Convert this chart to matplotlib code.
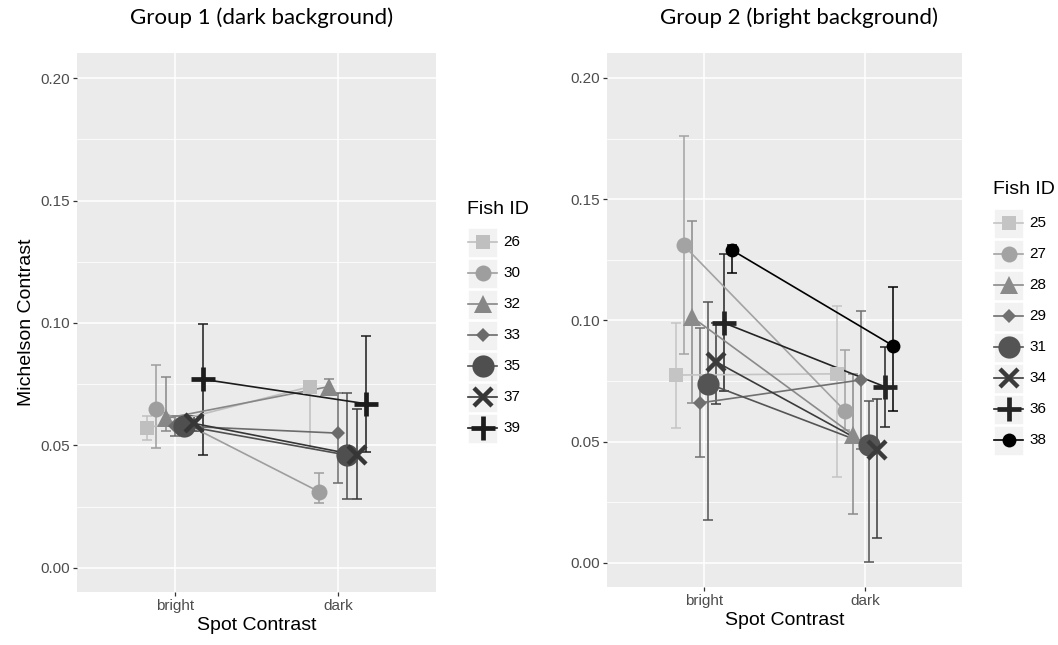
import numpy as np
import matplotlib
matplotlib.use('Agg')
import matplotlib.pyplot as plt
from matplotlib.patches import Rectangle

plt.rcParams['font.family'] = ['Liberation Sans', 'DejaVu Sans']

cats = ['bright', 'dark']

# Group 1 (dark background)
ids1 = ['26', '30', '32', '33', '35', '37', '39']
bright1 = [0.057, 0.065, 0.061, 0.058, 0.058, 0.059, 0.077]
bright1_lo = [0.052, 0.049, 0.056, 0.054, 0.055, 0.056, 0.046]
bright1_hi = [0.062, 0.083, 0.078, 0.062, 0.061, 0.062, 0.0996]
dark1 = [0.074, 0.031, 0.074, 0.055, 0.046, 0.046, 0.067]
dark1_lo = [0.049, 0.0265, 0.072, 0.0347, 0.028, 0.028, 0.0473]
dark1_hi = [0.075, 0.0388, 0.077, 0.0714, 0.0714, 0.065, 0.0947]

# Group 2 (bright background)
ids2 = ['25', '27', '28', '29', '31', '34', '36', '38']
bright2 = [0.0775, 0.131, 0.1015, 0.066, 0.074, 0.083, 0.099, 0.129]
bright2_lo = [0.0557, 0.086, 0.066, 0.0437, 0.0177, 0.0656, 0.071, 0.1196]
bright2_hi = [0.099, 0.176, 0.141, 0.097, 0.1076, 0.099, 0.1274, 0.131]
dark2 = [0.078, 0.0627, 0.0528, 0.0755, 0.0487, 0.0466, 0.0726, 0.0895]
dark2_lo = [0.0355, 0.055, 0.0202, 0.047, 0.0004, 0.0103, 0.056, 0.0627]
dark2_hi = [0.106, 0.088, 0.078, 0.104, 0.0668, 0.0676, 0.089, 0.114]

# styles
greys1 = ['#BFBFBF', '#9E9E9E', '#878787', '#6B6B6B', '#4F4F4F', '#363636', '#1C1C1C']
greys2 = ['#C4C4C4', '#A3A3A3', '#8A8A8A', '#707070', '#545454', '#3B3B3B', '#242424', '#000000']
shapes1 = ['sq', 'circ', 'tri', 'dia', 'big', 'x', 'plus']
shapes2 = ['sq', 'circ', 'tri', 'dia', 'big', 'x', 'plus', 'small']

mstyle = {
    'sq':    dict(marker='s', markersize=10.5, markeredgewidth=0),
    'circ':  dict(marker='o', markersize=11.5, markeredgewidth=0),
    'tri':   dict(marker='^', markersize=13, markeredgewidth=0),
    'dia':   dict(marker='D', markersize=7, markeredgewidth=0),
    'big':   dict(marker='o', markersize=16, markeredgewidth=0),
    'x':     dict(marker='x', markersize=13, markeredgewidth=3.2),
    'plus':  dict(marker='+', markersize=17, markeredgewidth=3.4),
    'small': dict(marker='o', markersize=10, markeredgewidth=0),
}


def panel(ax, ids, b, blo, bhi, d, dlo, dhi, greys, shapes):
    n = len(ids)
    offs = (np.arange(n) - (n - 1) / 2) * 0.4 / n
    for i in range(n):
        xs = np.array([0, 1]) + offs[i]
        ys = np.array([b[i], d[i]])
        yerr = [[b[i] - blo[i], d[i] - dlo[i]], [bhi[i] - b[i], dhi[i] - d[i]]]
        ax.errorbar(xs, ys, yerr=yerr, fmt='none', ecolor=greys[i],
                    elinewidth=1.1, capsize=3.8, capthick=1.1, zorder=2)
    for i in range(n):
        xs = np.array([0, 1]) + offs[i]
        ax.plot(xs, [b[i], d[i]], color=greys[i], lw=1.2, zorder=3)
    for i in range(n):
        xs = np.array([0, 1]) + offs[i]
        st = mstyle[shapes[i]]
        ax.plot(xs, [b[i], d[i]], ls='none', color=greys[i],
                markerfacecolor=greys[i], markeredgecolor=greys[i], zorder=4, **st)

    ax.set_facecolor('#EBEBEB')
    for s in ax.spines.values():
        s.set_visible(False)
    ax.set_xlim(-0.6, 1.6)
    ax.set_ylim(-0.0099, 0.2103)
    ax.set_xticks([0, 1])
    ax.set_xticklabels(cats)
    ax.set_yticks([0, 0.05, 0.10, 0.15, 0.20])
    ax.set_yticklabels(['0.00', '0.05', '0.10', '0.15', '0.20'])
    ax.set_yticks([0.025, 0.075, 0.125, 0.175], minor=True)
    ax.tick_params(axis='both', which='major', color='#333333', length=3,
                   width=0.9, labelcolor='#4D4D4D', labelsize=11, pad=2)
    ax.tick_params(axis='y', which='minor', length=0)
    ax.grid(True, which='major', color='white', lw=1.1)
    ax.grid(True, which='minor', axis='y', color='white', lw=0.55)
    ax.set_axisbelow(True)
    ax.set_xlabel('Spot Contrast', fontsize=14, color='black', labelpad=3)


W, H = 1058, 645
fig = plt.figure(figsize=(W / 100, H / 100), dpi=100)


def px_axes(x0, x1, y0, y1):
    return fig.add_axes([x0 / W, 1 - y1 / H, (x1 - x0) / W, (y1 - y0) / H])


ax1 = px_axes(77, 436, 53, 592)
ax2 = px_axes(607, 962, 53, 587)
panel(ax1, ids1, bright1, bright1_lo, bright1_hi, dark1, dark1_lo, dark1_hi, greys1, shapes1)
panel(ax2, ids2, bright2, bright2_lo, bright2_hi, dark2, dark2_lo, dark2_hi, greys2, shapes2)
ax1.set_ylabel('Michelson Contrast', fontsize=14, color='black', labelpad=4)

fig.text(262 / W, 1 - 18 / H, 'Group 1 (dark background)', family=['Lato', 'DejaVu Sans'],
         fontsize=16, ha='center', va='center')
fig.text(799 / W, 1 - 18 / H, 'Group 2 (bright background)', family=['Lato', 'DejaVu Sans'],
         fontsize=16, ha='center', va='center')

# legends drawn on a pixel-space overlay
lax = fig.add_axes([0, 0, 1, 1], zorder=10)
lax.set_xlim(0, W)
lax.set_ylim(H, 0)
lax.axis('off')


def legend(x0, ytitle, yfirst, ids, greys, shapes):
    lax.text(x0, ytitle, 'Fish ID', fontsize=14, ha='left', va='center')
    for i, (fid, c, sh) in enumerate(zip(ids, greys, shapes)):
        yc = yfirst + i * 31
        lax.add_patch(Rectangle((x0 + 1, yc - 14.5), 29, 29, facecolor='#F2F2F2',
                                edgecolor='white', lw=0.5))
        lax.plot([x0 + 1, x0 + 30], [yc, yc], color=c, lw=1.2)
        lax.plot([x0 + 15.5], [yc], ls='none', color=c, markerfacecolor=c,
                 markeredgecolor=c, **mstyle[sh])
        lax.text(x0 + 36, yc, fid, fontsize=11, ha='left', va='center')


legend(467, 210, 242, ids1, greys1, shapes1)
legend(993, 189, 223, ids2, greys2, shapes2)

fig.savefig('out.png', dpi=100)
